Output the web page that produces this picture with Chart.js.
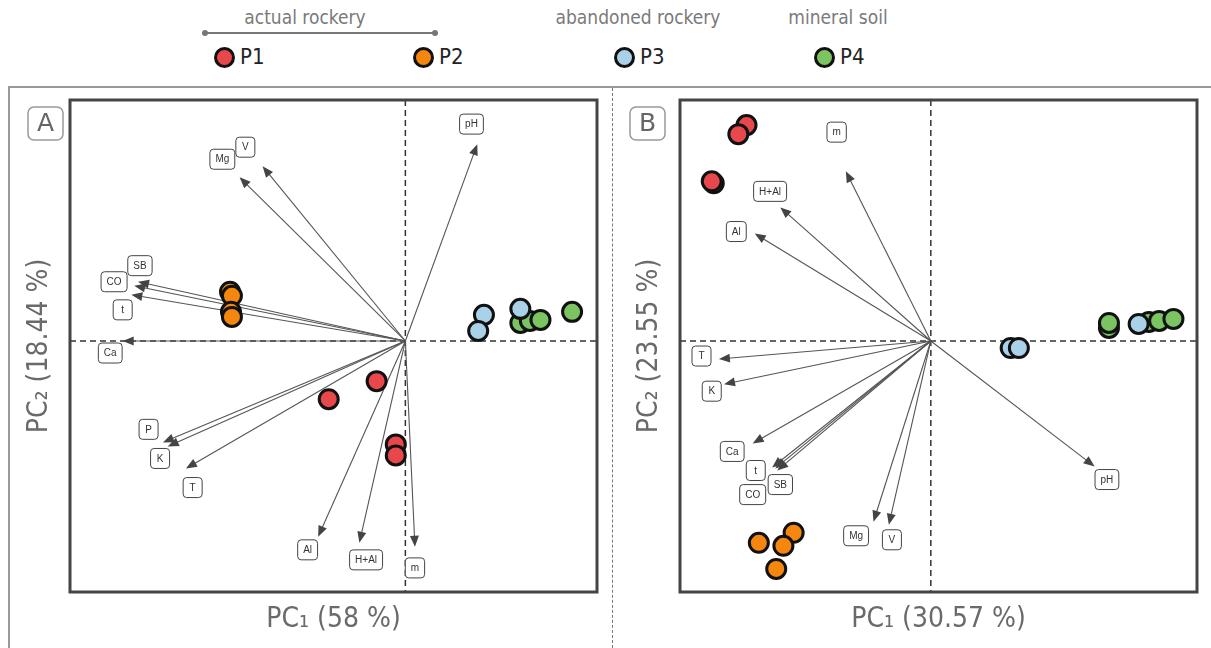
<!DOCTYPE html>
<html>
<head>
<meta charset="utf-8">
<script src="https://cdn.jsdelivr.net/npm/chart.js@4.4.1/dist/chart.umd.min.js"></script>
<style>
  body { margin: 0; background: #fff; width: 1211px; height: 648px; overflow: hidden; position: relative; font-family: 'Liberation Sans Narrow', 'DejaVu Sans Condensed', sans-serif; }
  .abs { position: absolute; }
  .grp { color: #7a7a7a; font-size: 19px; transform: translateX(-50%); white-space: nowrap; }
  .dot { width: 15px; height: 15px; border: 3px solid #111; border-radius: 50%; }
  .lab { color: #222; font-size: 22px; }
  #frameTop { left: 8px; top: 86px; width: 1203px; height: 0; border-top: 2px solid #999; }
  #frameLeft { left: 8px; top: 86px; width: 0; height: 562px; border-left: 2px solid #999; }
  #sep { left: 612px; top: 88px; width: 0; height: 560px; border-left: 1.5px dashed #777; }
</style>
</head>
<body>
<div class="abs grp" style="left:305px; top:6px;">actual rockery</div>
<div class="abs" style="left:205px; top:32px; width:230px; border-top:2px solid #777;"></div>
<div class="abs" style="left:202px; top:30px; width:6px; height:6px; background:#777; border-radius:50%;"></div>
<div class="abs" style="left:432px; top:30px; width:6px; height:6px; background:#777; border-radius:50%;"></div>
<div class="abs grp" style="left:638px; top:6px;">abandoned rockery</div>
<div class="abs grp" style="left:838px; top:6px;">mineral soil</div>
<div id="legend"></div>
<div id="frameTop" class="abs"></div>
<div id="frameLeft" class="abs"></div>
<div id="sep" class="abs"></div>
<canvas id="chartA" class="abs" style="left:0; top:0;" width="612" height="648"></canvas>
<canvas id="chartB" class="abs" style="left:613px; top:0;" width="598" height="648"></canvas>
<script>
// groups
const groupNames = ['P1', 'P2', 'P3', 'P4'];
const groupColors = ['#E8474C', '#F5870F', '#A9D1E8', '#7CC462'];

// panel A scores (PC1, PC2)
const aP1 = [[-0.30, -0.40], [-0.80, -0.58], [-0.10, -1.03], [-0.10, -1.14]];
const aP2 = [[-1.83, 0.49], [-1.81, 0.45], [-1.82, 0.29], [-1.81, 0.24]];
const aP3 = [[0.82, 0.26], [0.76, 0.10], [1.20, 0.32]];
const aP4 = [[1.20, 0.18], [1.30, 0.20], [1.41, 0.21], [1.74, 0.29]];

// panel A loadings
const aVars = ['pH', 'V', 'Mg', 'SB', 'CO', 't', 'Ca', 'P', 'K', 'T', 'Al', 'H+Al', 'm'];
const aLoadX = [0.75, -1.49, -1.73, -2.79, -2.83, -2.86, -2.95, -2.53, -2.48, -2.29, -0.91, -0.48, 0.10];
const aLoadY = [1.96, 1.74, 1.63, 0.59, 0.55, 0.46, 0.00, -1.01, -1.05, -1.27, -1.95, -2.01, -2.05];
const aLabelX = [0.69, -1.67, -1.91, -2.77, -3.04, -2.95, -3.08, -2.68, -2.56, -2.22, -1.02, -0.41, 0.10];
const aLabelY = [2.16, 1.93, 1.81, 0.75, 0.59, 0.31, -0.12, -0.88, -1.17, -1.46, -2.08, -2.18, -2.26];

// panel B scores
const bP1 = [[-1.80, 2.15], [-1.88, 2.06], [-2.12, 1.57], [-2.14, 1.59]];
const bP2 = [[-1.34, -1.91], [-1.44, -2.04], [-1.68, -2.01], [-1.51, -2.27]];
const bP3 = [[0.78, -0.07], [0.86, -0.07], [2.03, 0.17]];
const bP4 = [[1.74, 0.13], [1.74, 0.18], [2.13, 0.19], [2.23, 0.20], [2.37, 0.22]];

// panel B loadings
const bVars = ['m', 'H+Al', 'Al', 'T', 'K', 'Ca', 't', 'SB', 'CO', 'Mg', 'V', 'pH'];
const bLoadX = [-0.83, -1.47, -1.72, -2.07, -2.02, -1.74, -1.55, -1.50, -1.52, -0.56, -0.41, 1.60];
const bLoadY = [1.69, 1.33, 1.07, -0.18, -0.43, -1.02, -1.26, -1.29, -1.27, -1.80, -1.83, -1.25];
const bLabelX = [-0.92, -1.57, -1.90, -2.24, -2.14, -1.94, -1.71, -1.47, -1.74, -0.73, -0.38, 1.72];
const bLabelY = [2.08, 1.49, 1.09, -0.15, -0.50, -1.10, -1.29, -1.43, -1.53, -1.94, -1.98, -1.38];

const titleFont = "28px 'Liberation Sans Narrow', 'DejaVu Sans Condensed', sans-serif";

// legend row
const legendX = [214, 413, 614, 814];
const legendEl = document.getElementById('legend');
groupNames.forEach((name, i) => {
    legendEl.insertAdjacentHTML('beforeend',
        `<div class="abs dot" style="left:${legendX[i]}px; top:47px; background:${groupColors[i]}"></div>` +
        `<div class="abs lab" style="left:${legendX[i] + 26}px; top:44px;">${name}</div>`);
});

function roundRect(ctx, x, y, w, h, r) {
    ctx.beginPath();
    ctx.moveTo(x + r, y);
    ctx.arcTo(x + w, y, x + w, y + h, r);
    ctx.arcTo(x + w, y + h, x, y + h, r);
    ctx.arcTo(x, y + h, x, y, r);
    ctx.arcTo(x, y, x + w, y, r);
    ctx.closePath();
}

function biplotPlugin(p) {
    return {
        id: 'biplot',
        beforeDatasetsDraw(chart) {
            const { ctx, chartArea: a, scales: { x, y } } = chart;
            const x0 = x.getPixelForValue(0), y0 = y.getPixelForValue(0);
            ctx.save();
            // zero lines
            ctx.strokeStyle = '#333';
            ctx.lineWidth = 1.5;
            ctx.setLineDash([6, 4]);
            ctx.beginPath();
            ctx.moveTo(a.left, y0); ctx.lineTo(a.right, y0);
            ctx.moveTo(x0, a.top); ctx.lineTo(x0, a.bottom);
            ctx.stroke();
            ctx.setLineDash([]);
            // arrows
            ctx.strokeStyle = '#555';
            ctx.fillStyle = '#444';
            ctx.lineWidth = 1.1;
            p.vars.forEach((v, i) => {
                const tx = x.getPixelForValue(p.loadX[i]), ty = y.getPixelForValue(p.loadY[i]);
                const ang = Math.atan2(ty - y0, tx - x0);
                ctx.beginPath();
                ctx.moveTo(x0, y0);
                ctx.lineTo(tx - Math.cos(ang) * 6, ty - Math.sin(ang) * 6);
                ctx.stroke();
                ctx.beginPath();
                ctx.moveTo(tx, ty);
                ctx.lineTo(tx - Math.cos(ang) * 11 + Math.sin(ang) * 4.5, ty - Math.sin(ang) * 11 - Math.cos(ang) * 4.5);
                ctx.lineTo(tx - Math.cos(ang) * 11 - Math.sin(ang) * 4.5, ty - Math.sin(ang) * 11 + Math.cos(ang) * 4.5);
                ctx.closePath();
                ctx.fill();
            });
            // variable labels
            ctx.font = "10px 'Liberation Sans', Arial, sans-serif";
            ctx.textAlign = 'center';
            ctx.textBaseline = 'middle';
            p.vars.forEach((v, i) => {
                const lx = x.getPixelForValue(p.labelX[i]), ly = y.getPixelForValue(p.labelY[i]);
                const w = Math.max(19, ctx.measureText(v).width + 11), h = 20;
                roundRect(ctx, lx - w / 2, ly - h / 2, w, h, 3.5);
                ctx.fillStyle = '#fff';
                ctx.fill();
                ctx.strokeStyle = '#444';
                ctx.lineWidth = 1;
                ctx.stroke();
                ctx.fillStyle = '#333';
                ctx.fillText(v, lx, ly + 0.5);
            });
            ctx.restore();
        },
        afterDraw(chart) {
            const { ctx, chartArea: a } = chart;
            ctx.save();
            // plot frame
            ctx.strokeStyle = '#444';
            ctx.lineWidth = 3;
            ctx.strokeRect(a.left, a.top, a.right - a.left, a.bottom - a.top);
            // panel letter
            roundRect(ctx, p.letterX, 107, 35, 33, 6);
            ctx.strokeStyle = '#999';
            ctx.lineWidth = 1.5;
            ctx.stroke();
            ctx.fillStyle = '#666';
            ctx.font = "25px 'DejaVu Sans', sans-serif";
            ctx.textAlign = 'center';
            ctx.textBaseline = 'middle';
            ctx.fillText(p.letter, p.letterX + 17.5, 124);
            // axis titles
            ctx.font = titleFont;
            ctx.fillStyle = '#6a6a6a';
            ctx.fillText(p.xTitle, (a.left + a.right) / 2, 620);
            ctx.translate(p.yTitleX, (a.top + a.bottom) / 2);
            ctx.rotate(-Math.PI / 2);
            ctx.fillText(p.yTitle, 0, 0);
            ctx.restore();
        }
    };
}

function makeDatasets(sets) {
    return sets.map((pts, i) => ({
        label: groupNames[i],
        data: pts.map(([px, py]) => ({ x: px, y: py })),
        backgroundColor: groupColors[i],
        borderColor: '#111',
        borderWidth: 3,
        pointRadius: 9.5
    }));
}

function renderBiplot(canvasId, sets, p) {
    const ctx = document.getElementById(canvasId).getContext('2d');
    new Chart(ctx, {
        type: 'scatter',
        data: { datasets: makeDatasets(sets) },
        options: {
            responsive: false,
            animation: false,
            layout: { padding: p.padding },
            plugins: { legend: { display: false }, tooltip: { enabled: false } },
            scales: {
                x: { type: 'linear', min: p.xMin, max: p.xMax, display: false },
                y: { type: 'linear', min: p.yMin, max: p.yMax, display: false }
            }
        },
        plugins: [biplotPlugin(p)]
    });
}

renderBiplot('chartA', [aP1, aP2, aP3, aP4], {
    vars: aVars, loadX: aLoadX, loadY: aLoadY, labelX: aLabelX, labelY: aLabelY,
    xMin: -3.5, xMax: 2.0, yMin: -2.5, yMax: 2.4,
    padding: { left: 70, right: 15, top: 100, bottom: 56 },
    letter: 'A', letterX: 28, yTitleX: 40,
    xTitle: 'PC\u2081 (58 %)', yTitle: 'PC\u2082 (18.44 %)'
});

renderBiplot('chartB', [bP1, bP2, bP3, bP4], {
    vars: bVars, loadX: bLoadX, loadY: bLoadY, labelX: bLabelX, labelY: bLabelY,
    xMin: -2.45, xMax: 2.6, yMin: -2.5, yMax: 2.4,
    padding: { left: 67, right: 14, top: 100, bottom: 56 },
    letter: 'B', letterX: 17, yTitleX: 37,
    xTitle: 'PC\u2081 (30.57 %)', yTitle: 'PC\u2082 (23.55 %)'
});
</script>
</body>
</html>
